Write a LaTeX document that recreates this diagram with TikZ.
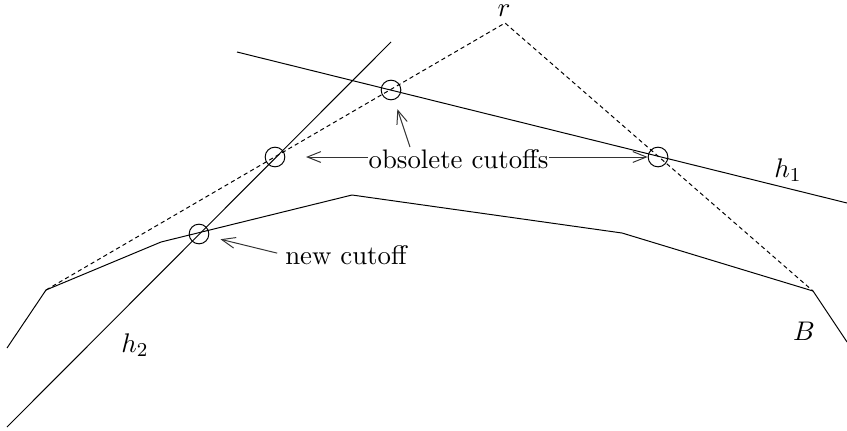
\documentclass[tikz,border=0pt]{standalone}
\usetikzlibrary{arrows.meta}
\begin{document}
\begin{tikzpicture}[x=0.4065pt,y=-0.4065pt,
  line width=0.4pt,
  font=\fontsize{10.9pt}{13pt}\selectfont,
  cut/.style={circle,draw,minimum size=8pt,inner sep=0pt},
  dsh/.style={dash pattern=on 1.7pt off 1.3pt},
  lbl/.style={inner sep=0pt},
  arr/.style={-{Straight Barb[length=5.5pt,width=4.4pt]},draw=black!80}]
\useasboundingbox (0,0) rectangle (847,430);
% boundary B
\coordinate (b0) at (7,348);
\coordinate (b1) at (46,290);
\coordinate (b2) at (161,242);
\coordinate (b3) at (352,195);
\coordinate (b4) at (622,233);
\coordinate (b5) at (813,291);
\coordinate (b6) at (847,342);
\coordinate (r) at (505,23);
\draw (b0) -- (b1) -- (b2) -- (b3) -- (b4) -- (b5) -- (b6);
\draw[dsh] (b1) -- (r) -- (b5);
% h1 and h2
\coordinate (h1a) at (237,52);
\coordinate (h1b) at (847,203);
\coordinate (h2a) at (7,427);
\coordinate (h2b) at (391,42);
\draw (h1a) -- (h1b);
\draw (h2a) -- (h2b);
% cutoff circles
\node[cut] (c1) at (391,90) {};
\node[cut] (c2) at (275,157) {};
\node[cut] (c3) at (658,157) {};
\node[cut] (c4) at (199,234) {};
% labels
\node[lbl] (lr) at (504,11) {$r$};
\node[lbl] (lh1) at (788,170) {$h_1$};
\node[lbl] (lh2) at (135,345) {$h_2$};
\node[lbl] (lB) at (804,331) {$B$};
\node[lbl] (obs) at (458.5,159) {obsolete cutoffs};
\node[lbl] (new) at (346,255) {new cutoff};
% arrows
\coordinate (u) at (410,147);
\coordinate (t2) at (306,157);
\draw[arr] (obs.west |- c2) -- (t2);
\draw[arr] (obs.east |- c3) -- (c3);
\draw[arr,shorten >=4pt] (u) -- (c1);
\draw[arr,shorten <=3.2pt,shorten >=4.8pt] (new.west) -- (c4);
\end{tikzpicture}
\end{document}
